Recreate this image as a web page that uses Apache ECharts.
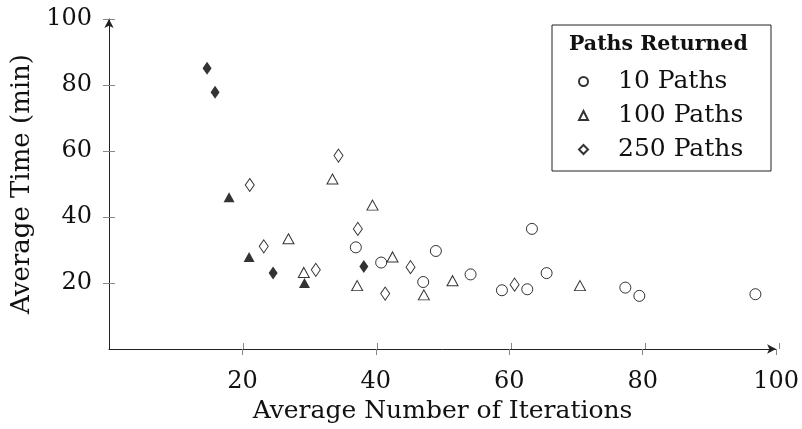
<!DOCTYPE html>
<html>
<head>
<meta charset="utf-8">
<script src="https://cdn.jsdelivr.net/npm/echarts@6/dist/echarts.min.js"></script>
<style>
    html, body { margin: 0; padding: 0; background: #fff; }
    #chart { width: 802px; height: 429px; }
</style>
</head>
<body>
<div id="chart"></div>
<script>
    // tick labels
    var xTicks = [20, 40, 60, 80, 100];
    var yTicks = [20, 40, 60, 80, 100];

    // 10 Paths (open circles)
    var paths10 = [
        [37.0, 30.8], [40.8, 26.2], [49.0, 29.7], [47.1, 20.3], [54.2, 22.6],
        [58.9, 17.8], [62.7, 18.1], [63.4, 36.4], [65.6, 23.0], [77.4, 18.6],
        [79.5, 16.1], [96.9, 16.6]
    ];
    // 100 Paths (open triangles)
    var paths100 = [
        [26.9, 33.4], [33.5, 51.5], [39.5, 43.6], [29.2, 23.2], [37.2, 19.2],
        [42.5, 27.9], [47.2, 16.4], [51.5, 20.7], [70.6, 19.2]
    ];
    // 250 Paths (open diamonds)
    var paths250 = [
        [21.1, 49.7], [23.2, 31.1], [34.4, 58.6], [37.3, 36.4], [31.0, 24.0],
        [45.2, 24.8], [41.4, 16.8], [60.8, 19.5]
    ];
    // highlighted points (filled)
    var filledTri = [[18.0, 46.0], [21.0, 27.9], [29.3, 20.0]];
    var filledDia = [[14.7, 85.1], [15.9, 77.8], [24.6, 23.0], [38.2, 25.0]];

    var serif = 'DejaVu Serif';
    var chart = echarts.init(document.getElementById('chart'));

    function openStyle() {
        return { color: '#fff', borderColor: '#000', borderWidth: 1 };
    }

    var gridRect = { left: 109, right: 23, top: 19, bottom: 80 };

    var option = {
        animation: false,
        grid: [
            Object.assign({}, gridRect),
            Object.assign({}, gridRect)
        ],
        xAxis: [{
            gridIndex: 0,
            type: 'value', min: 0, max: 100,
            name: 'Average Number of Iterations',
            nameLocation: 'middle', nameGap: 47,
            nameTextStyle: { fontFamily: serif, fontSize: 25, color: '#111' },
            axisLine: { lineStyle: { color: '#222', width: 1 }, symbol: ['none', 'arrow'], symbolSize: [7, 9] },
            axisTick: { length: 6, lineStyle: { color: '#888' }, customValues: xTicks },
            axisLabel: { fontFamily: serif, fontSize: 24, color: '#111', margin: 21, customValues: xTicks },
            splitLine: { show: false }
        }, {
            gridIndex: 1,
            type: 'value', min: 0, max: 100,
            axisLine: { show: false },
            axisTick: { inside: true, length: 6, lineStyle: { color: '#888' }, customValues: xTicks },
            axisLabel: { show: false },
            splitLine: { show: false }
        }],
        yAxis: [{
            gridIndex: 0,
            type: 'value', min: 0, max: 100,
            name: 'Average Time (min)',
            nameLocation: 'middle', nameGap: 73,
            nameTextStyle: { fontFamily: serif, fontSize: 26, color: '#111' },
            axisLine: { lineStyle: { color: '#222', width: 1 }, symbol: ['none', 'arrow'], symbolSize: [7, 9] },
            axisTick: { length: 6, lineStyle: { color: '#888' }, customValues: yTicks },
            axisLabel: { fontFamily: serif, fontSize: 24, color: '#111', margin: 17, customValues: yTicks },
            splitLine: { show: false }
        }, {
            gridIndex: 1,
            type: 'value', min: 0, max: 100,
            axisLine: { show: false },
            axisTick: { inside: true, length: 6, lineStyle: { color: '#888' }, customValues: yTicks },
            axisLabel: { show: false },
            splitLine: { show: false }
        }],
        legend: {
            data: ['10 Paths', '100 Paths', '250 Paths'],
            orient: 'vertical',
            left: 573, top: 64,
            itemWidth: 9, itemHeight: 9, itemGap: 9,
            textStyle: { fontFamily: serif, fontSize: 25, color: '#111', padding: [0, 0, 0, 25] }
        },
        graphic: [{
            type: 'rect',
            shape: { x: 552, y: 25, width: 219, height: 146 },
            style: { fill: 'none', stroke: '#222', lineWidth: 1 },
            z: 10
        }, {
            type: 'text',
            left: 569, top: 34,
            style: { text: 'Paths Returned', font: 'bold 20.5px "DejaVu Serif"', fill: '#111' },
            z: 10
        }],
        series: [{
            name: '10 Paths', type: 'scatter', data: paths10,
            symbol: 'circle', symbolSize: 11, itemStyle: openStyle()
        }, {
            name: '100 Paths', type: 'scatter', data: paths100,
            symbol: 'triangle', symbolSize: [11, 10], itemStyle: openStyle()
        }, {
            name: '250 Paths', type: 'scatter', data: paths250,
            symbol: 'diamond', symbolSize: [9, 13], itemStyle: openStyle()
        }, {
            name: 'filled triangles', type: 'scatter', data: filledTri,
            symbol: 'triangle', symbolSize: [11, 10], itemStyle: { color: '#000' }
        }, {
            name: 'filled diamonds', type: 'scatter', data: filledDia,
            symbol: 'diamond', symbolSize: [9, 13], itemStyle: { color: '#000' }
        }]
    };

    chart.setOption(option);
</script>
</body>
</html>
